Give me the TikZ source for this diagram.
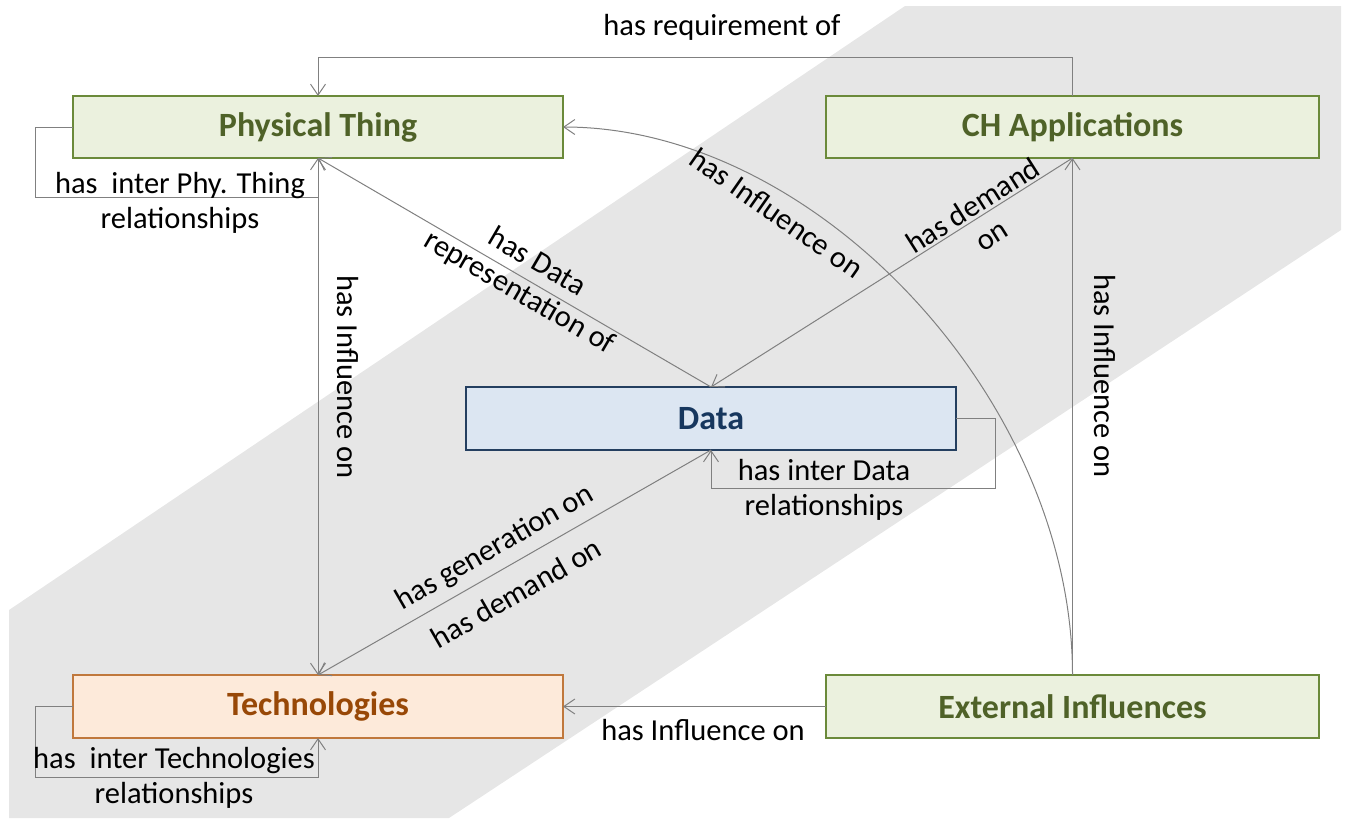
\documentclass[tikz,border=0pt]{standalone}
\usepackage{fontspec}
\setmainfont{Carlito}
\usetikzlibrary{arrows.meta,calc}
\definecolor{bandgray}{HTML}{E6E6E6}
\definecolor{grfill}{HTML}{EBF1DE}
\definecolor{grline}{HTML}{6B8A3A}
\definecolor{grtext}{HTML}{4F6228}
\definecolor{dafill}{HTML}{DCE6F2}
\definecolor{daline}{HTML}{243F60}
\definecolor{datext}{HTML}{17375E}
\definecolor{tefill}{HTML}{FDEADA}
\definecolor{teline}{HTML}{C0783C}
\definecolor{tetext}{HTML}{984807}
\definecolor{cline}{HTML}{808080}
\begin{document}
\begin{tikzpicture}[x=1pt,y=-1pt,
  box/.style={draw, line width=1.4pt, minimum width=490pt, minimum height=62pt,
    inner sep=0pt, outer sep=0pt, font=\fontsize{34}{40}\selectfont\bfseries},
  greenbox/.style={box, fill=grfill, draw=grline, text=grtext},
  databox/.style={box, fill=dafill, draw=daline, text=datext},
  techbox/.style={box, fill=tefill, draw=teline, text=tetext},
  conn/.style={draw=cline, line width=1pt,
    -{Straight Barb[length=11pt,width=15pt,line width=1pt]}},
  lbl/.style={font=\fontsize{30.5}{35}\selectfont, inner sep=0pt, align=center, text=black}]
\useasboundingbox (0,0) rectangle (1346,823);
\fill[bandgray] (9,610) -- (905,6) -- (1341,6) -- (1341,230) -- (449,818) -- (9,818) -- cycle;

% boxes
\node[greenbox] (phys) at (318,127) {Physical Thing};
\node[greenbox, minimum width=493pt] (ch) at (1072.5,127) {CH Applications};
\node[databox, minimum height=63pt] (data) at (711,418.5) {Data};
\node[techbox, minimum height=63pt] (tech) at (318,706.5) {Technologies};
\node[greenbox, minimum width=493pt, minimum height=63pt] (ext) at (1072.5,706.5) {External Influences};

% connectors
\coordinate (req) at (0,57);
\draw[conn] (ch.north) -- (ch.north |- req) -| (phys.north);
\draw[conn] (phys.west) -- ++(-38,0) -- ++(0,70) -| (phys.south);
\draw[conn] (tech.west) -- ++(-38,0) -- ++(0,70.5) -| (tech.south);
\draw[conn] (data.east) -- ++(39,0) -- ++(0,70) -| (data.south);
\draw[conn] (phys.south) -- (tech.north);
\draw[conn] (ext.north) -- (ch.south);
\draw[conn] (data.north) -- (phys.south);
\draw[conn] (ch.south) -- (data.north);
\draw[conn] (data.south) -- (tech.north);
\draw[conn] (ext.west) -- (tech.east);
\draw[conn] (ext.north) .. controls ($(ext.north)+(0,-274)$) and ($(phys.east)+(254,0)$) .. (phys.east);

% labels
\node[lbl] (lreq) at (722,27) {has requirement of};
\node[lbl] (lphy) at (180,203) {has~ inter Phy. Thing\\relationships};
\node[lbl] (ltech) at (174,778) {has~ inter Technologies\\relationships};
\node[lbl] (ldata) at (824,490) {has inter Data\\relationships};
\node[lbl, rotate=-90] (linfa) at (348,377) {has Influence on};
\node[lbl, rotate=-90] (linfb) at (1105,376) {has Influence on};
\node[lbl] (linfc) at (703,730) {has Influence on};
\node[lbl, rotate=-35] (larc) at (777,213) {has Influence on};
\node[lbl, rotate=-30.3] (lrep) at (528,278) {has Data\\representation of};
\node[lbl, rotate=32.3] (ldem) at (982,220) {has demand\\on};
\node[lbl, rotate=29.9] (lgen) at (495,548) {has generation on};
\node[lbl, rotate=29.9] (ldemb) at (516,593) {has demand on};
\end{tikzpicture}
\end{document}
